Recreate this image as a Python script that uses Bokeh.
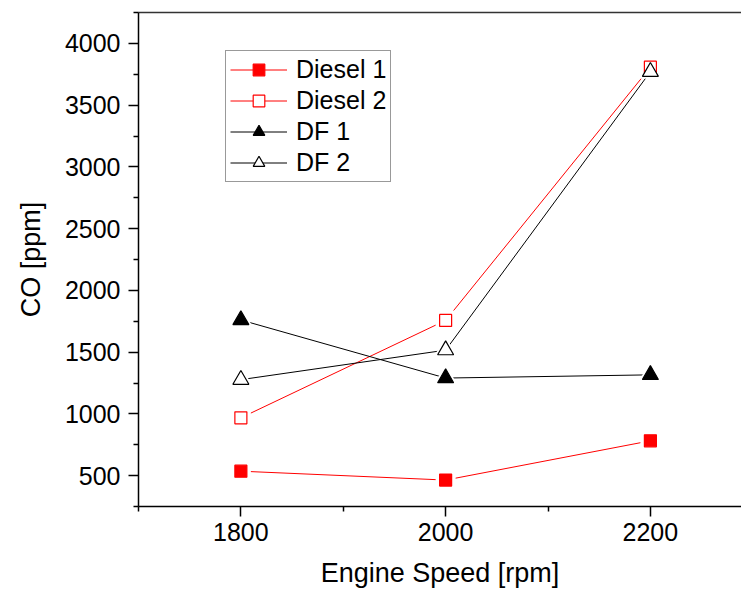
from bokeh.plotting import figure
from bokeh.models import (FixedTicker, LinearAxis, Range1d, Legend, LegendItem,
                          ColumnDataSource)
from bokeh.embed import file_html
from bokeh.resources import INLINE

speed = [1800, 2000, 2200]
diesel1 = [536, 464, 782]
diesel2 = [968, 1757, 3807]
df1 = [1760, 1290, 1316]
df2 = [1277, 1516, 3770]

y_ticks = [500, 1000, 1500, 2000, 2500, 3000, 3500, 4000]
y_minor = [250, 750, 1250, 1750, 2250, 2750, 3250, 3750, 4250]
x_ticks = [1800, 2000, 2200]
x_minor = [1700, 1900, 2100, 2300]

FONT = "Liberation Sans"

p = figure(width=741, height=592, output_backend="svg", toolbar_location=None,
           x_range=Range1d(1700, 2289), y_range=Range1d(250, 4250),
           min_border_left=138, min_border_right=0, min_border_top=12,
           min_border_bottom=86)
p.outline_line_color = None
p.grid.visible = False
p.background_fill_color = "white"
p.border_fill_color = "white"

for ax, tk, mn in ((p.xaxis[0], x_ticks, x_minor), (p.yaxis[0], y_ticks, y_minor)):
    ax.ticker = FixedTicker(ticks=tk, minor_ticks=mn)
    ax.axis_line_color = "black"
    ax.axis_line_width = 1.5
    ax.major_tick_line_color = "black"
    ax.major_tick_line_width = 1.5
    ax.minor_tick_line_color = "black"
    ax.minor_tick_line_width = 1.5
    ax.major_tick_in = 0
    ax.major_tick_out = 10
    ax.minor_tick_in = 0
    ax.minor_tick_out = 5
    ax.major_label_text_font = FONT
    ax.major_label_text_font_size = "25px"
    ax.major_label_text_color = "black"
    ax.axis_label_text_font = FONT
    ax.axis_label_text_font_style = "normal"
    ax.axis_label_text_font_size = "27px"
    ax.axis_label_text_color = "black"

p.xaxis[0].axis_label = "Engine Speed [rpm]"
p.yaxis[0].axis_label = "CO [ppm]"
p.xaxis[0].major_label_standoff = 6
p.xaxis[0].axis_label_standoff = 14
p.yaxis[0].major_label_standoff = 8
p.yaxis[0].axis_label_standoff = 16

top = LinearAxis(ticker=FixedTicker(ticks=[]), major_label_text_font_size="0px",
                 axis_line_color="#333333", axis_line_width=1.5,
                 major_tick_line_color=None, minor_tick_line_color=None)
p.add_layout(top, "above")

series = [
    ("Diesel 1", diesel1, "red", "square", "red", 12),
    ("Diesel 2", diesel2, "red", "square", "white", 12),
    ("DF 1", df1, "black", "triangle", "black", 16),
    ("DF 2", df2, "black", "triangle", "white", 16),
]

lines, halos, marks = [], [], []
for name, ys, col, mk, fill, sz in series:
    src = ColumnDataSource(dict(x=speed, y=ys))
    lines.append(p.line("x", "y", source=src, line_color=col, line_width=1))
for name, ys, col, mk, fill, sz in series:
    src = ColumnDataSource(dict(x=speed, y=ys))
    halos.append(p.scatter("x", "y", source=src, marker=mk, size=sz + 8,
                           fill_color="white", line_color=None))
for name, ys, col, mk, fill, sz in series:
    src = ColumnDataSource(dict(x=speed, y=ys))
    marks.append(p.scatter("x", "y", source=src, marker=mk, size=sz,
                           fill_color=fill, line_color=col, line_width=1.2))

items = [LegendItem(label=s[0], renderers=[l, h, m])
         for s, l, h, m in zip(series, lines, halos, marks)]
legend = Legend(items=items, location=(87, 324))
legend.label_text_font = FONT
legend.label_text_font_size = "25px"
legend.label_text_color = "black"
legend.glyph_width = 57
legend.glyph_height = 29
legend.label_height = 29
legend.label_standoff = 9
legend.spacing = 2
legend.padding = 4
legend.margin = 0
legend.border_line_color = "#333333"
legend.border_line_width = 1
legend.background_fill_color = "white"
legend.background_fill_alpha = 1
p.add_layout(legend, "center")

open("out.html", "w").write(file_html(p, INLINE))
